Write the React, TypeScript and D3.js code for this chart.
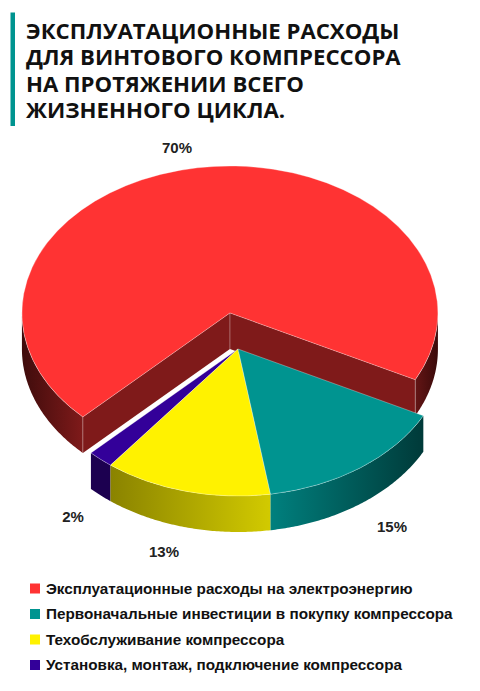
import React from 'react';
import * as d3 from 'd3';

const titleLines = [
  'ЭКСПЛУАТАЦИОННЫЕ РАСХОДЫ',
  'ДЛЯ ВИНТОВОГО КОМПРЕССОРА',
  'НА ПРОТЯЖЕНИИ ВСЕГО',
  'ЖИЗНЕННОГО ЦИКЛА.'
];
const categories = [
  'Эксплуатационные расходы на электроэнергию',
  'Первоначальные инвестиции в покупку компрессора',
  'Техобслуживание компрессора',
  'Установка, монтаж, подключение компрессора'
];
const shares = [70, 15, 13, 2];
const topColors = ['#ff3333', '#009490', '#fff200', '#330099'];
const wallFrom = ['#3f0c0c', '#00807e', '#8a8300', '#1c0050'];
const wallTo = ['#7f1a1a', '#003a39', '#d2ca00', '#1c0050'];
const redRightWall = ['#641515', '#3a0a0a'];
const cutColor = '#7f1a1a';

const width = 480;
const height = 691;
const radius = 208;
const tilt = 147 / 208;
const depth = 36;
const cx = 238;
const cy = 349;
const explode = 51.6;
const labelPos = [[177, 153], [392, 532], [164, 557], [73, 522]];

type Pt = [number, number];

const pie = d3.pie<number>().sort(null).startAngle(-Math.PI * 0.75).endAngle(Math.PI * 1.25);
const arcs = pie(shares);
const arcGen = d3.arc<d3.PieArcDatum<number>>().innerRadius(0).outerRadius(radius);
const line = d3.line();

const offsetOf = (i: number): Pt => {
  if (i !== 0) return [0, 0];
  const mid = (arcs[i].startAngle + arcs[i].endAngle) / 2;
  return [Math.sin(mid) * explode, -Math.cos(mid) * explode];
};
const project = (a: number, r: number, off: Pt): Pt => [
  cx + off[0] + Math.sin(a) * r,
  cy + (off[1] - Math.cos(a) * r) * tilt
];

// outer wall between two angles, only the parts facing the viewer
const wallPath = (a0: number, a1: number, off: Pt) => {
  const steps = d3.range(a0, a1, 0.01).concat(a1);
  const top = steps.map(a => project(a, radius, off));
  const bottom = top.map(([x, y]): Pt => [x, y + depth]).reverse();
  return line(top.concat(bottom)) + 'Z';
};
const frontParts = (a0: number, a1: number) => {
  const parts: [number, number][] = [];
  [Math.PI / 2, -Math.PI * 1.5].forEach(start => {
    const s = Math.max(a0, start);
    const e = Math.min(a1, start + Math.PI);
    if (e > s) parts.push([s, e]);
  });
  return parts;
};
const cutPath = (a: number, off: Pt) => {
  const c = project(0, 0, off);
  const e = project(a, radius, off);
  return line([c, e, [e[0], e[1] + depth], [c[0], c[1] + depth]]) + 'Z';
};

const drawOrder = [0, 3, 2, 1];

export default function App() {
  return (
    <svg
      width={width}
      height={height}
      viewBox={`0 0 ${width} ${height}`}
      style={{ position: 'absolute', left: 0, top: 0, background: '#fff' }}
    >
      <defs>
        {arcs.map((d, i) =>
          frontParts(d.startAngle, d.endAngle).map((p, j) => {
            const off = offsetOf(i);
            const xa = project(p[0], radius, off)[0];
            const xb = project(p[1], radius, off)[0];
            const isRedRight = i === 0 && j === 0;
            return (
              <linearGradient
                key={`${i}-${j}`}
                id={`wall-${i}-${j}`}
                gradientUnits="userSpaceOnUse"
                x1={Math.min(xa, xb)}
                x2={Math.max(xa, xb)}
                y1={0}
                y2={0}
              >
                <stop offset="0" stopColor={isRedRight ? redRightWall[0] : wallFrom[i]} />
                <stop offset="1" stopColor={isRedRight ? redRightWall[1] : wallTo[i]} />
              </linearGradient>
            );
          })
        )}
      </defs>

      <rect x={10.5} y={12.5} width={4.5} height={113.5} fill="#009490" />
      <text fontFamily="'Open Sans'" fontWeight={700} fontSize={22.2} fill="#111">
        {titleLines.map((t, i) => (
          <tspan key={t} x={26} y={38.5 + i * 26.6}>{t}</tspan>
        ))}
      </text>

      {drawOrder.map(i => {
        const d = arcs[i];
        const off = offsetOf(i);
        const c = project(0, 0, off);
        const edge = 'rgba(255,255,255,0.45)';
        return (
          <g key={i}>
            {i === 0 && [d.startAngle, d.endAngle].map(a => (
              <path key={a} d={cutPath(a, off)} fill={cutColor} />
            ))}
            {frontParts(d.startAngle, d.endAngle).map((p, j) => (
              <path key={j} d={wallPath(p[0], p[1], off)} fill={`url(#wall-${i}-${j})`} />
            ))}
            {i === 0 && [d.startAngle, d.endAngle].map(a => {
              const e = project(a, radius, off);
              return <path key={a} d={line([[e[0], e[1]], [e[0], e[1] + depth]])!} stroke={edge} strokeWidth={0.7} />;
            })}
            {i === 0 && (
              <path d={line([[c[0], c[1]], [c[0], c[1] + depth]])!} stroke={edge} strokeWidth={0.7} />
            )}
            <g transform={`translate(${c[0]},${c[1]}) scale(1,${tilt})`}>
              <path d={arcGen(d)!} fill={topColors[i]} stroke={edge} strokeWidth={0.7} vectorEffect="non-scaling-stroke" />
            </g>
          </g>
        );
      })}

      {shares.map((s, i) => (
        <text
          key={i}
          x={labelPos[i][0]}
          y={labelPos[i][1]}
          textAnchor="middle"
          fontFamily="'Liberation Sans'"
          fontWeight={700}
          fontSize={15}
          fill="#222"
        >
          {s}%
        </text>
      ))}

      {categories.map((c, i) => {
        const y = 588.5 + i * 25.5;
        return (
          <g key={c}>
            <rect x={30} y={y - 5} width={10} height={10} fill={topColors[i]} />
            <text
              x={46}
              y={y + 5}
              fontFamily="'Liberation Sans'"
              fontWeight={700}
              fontSize={15.28}
              fill="#111"
            >
              {c}
            </text>
          </g>
        );
      })}
    </svg>
  );
}
